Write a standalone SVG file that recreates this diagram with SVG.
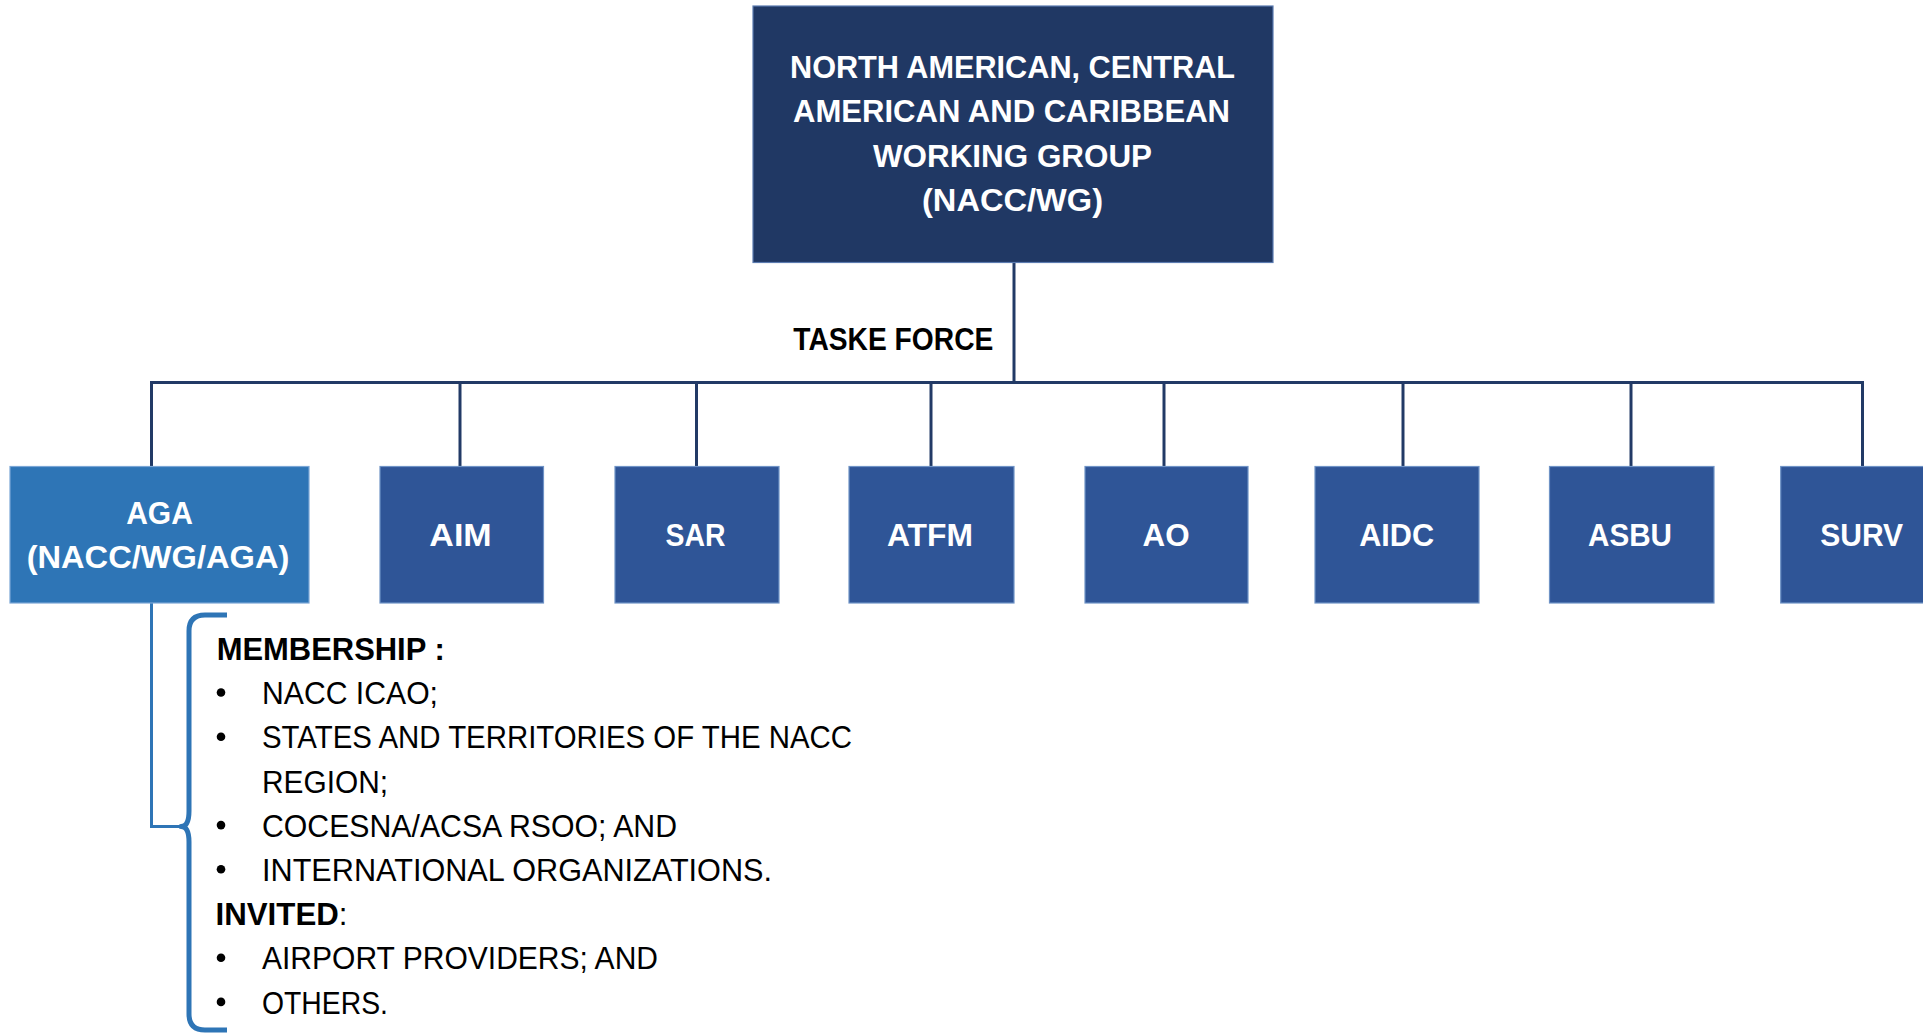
<svg xmlns="http://www.w3.org/2000/svg" width="1923" height="1034" viewBox="0 0 1923 1034">
<style>
.top{fill:#203864;stroke:#5b7bb0;stroke-width:1.2}
.box{fill:#2f5597;stroke:#6f93c6;stroke-width:1.2}
.aga{fill:#2e75b6;stroke:#7aa6d6;stroke-width:1.2}
.wt{font-family:"Liberation Sans",Arial,sans-serif;font-weight:bold;font-size:31px;fill:#ffffff;text-anchor:middle}
.lbl{font-family:"Liberation Sans",Arial,sans-serif;font-weight:bold;font-size:32px;fill:#000000}
.bt{font-family:"Liberation Sans",Arial,sans-serif;font-size:31px;fill:#000000}
.bb{font-family:"Liberation Sans",Arial,sans-serif;font-weight:bold;font-size:31px;fill:#000000}
.conn{fill:none;stroke:#223a66;stroke-width:3}
.brace{fill:none;stroke:#2e75b6;stroke-width:5;stroke-linejoin:round}
.link{fill:none;stroke:#2e75b6;stroke-width:3}
</style>
<rect width="1923" height="1034" fill="#ffffff"/>
<g id="connectors">
<path class="conn" d="M1014 262 V382.5"/>
<path class="conn" d="M151.5 466 V382.5 H1862.5 V466"/>
<path class="conn" d="M460 382.5 V466"/>
<path class="conn" d="M696.5 382.5 V466"/>
<path class="conn" d="M931 382.5 V466"/>
<path class="conn" d="M1164 382.5 V466"/>
<path class="conn" d="M1403 382.5 V466"/>
<path class="conn" d="M1631 382.5 V466"/>
<path class="link" d="M151.5 603 V826.5 H184"/>
</g>
<g id="nacc-wg">
<rect class="top" x="753" y="6" width="520" height="256.5"/>
<text class="wt" x="1012.5" y="78" textLength="445" lengthAdjust="spacingAndGlyphs">NORTH AMERICAN, CENTRAL</text>
<text class="wt" x="1011.5" y="122" textLength="437" lengthAdjust="spacingAndGlyphs">AMERICAN AND CARIBBEAN</text>
<text class="wt" x="1012.5" y="166.5" textLength="279" lengthAdjust="spacingAndGlyphs">WORKING GROUP</text>
<text class="wt" x="1012.5" y="210.5" textLength="181" lengthAdjust="spacingAndGlyphs">(NACC/WG)</text>
</g>
<g id="task-force-label">
<text class="lbl" x="793.3" y="350" textLength="200" lengthAdjust="spacingAndGlyphs">TASKE FORCE</text>
</g>
<g id="aga">
<rect class="aga" x="10" y="466.5" width="299" height="136.5"/>
<text class="wt" x="159.5" y="524" textLength="66.7" lengthAdjust="spacingAndGlyphs">AGA</text>
<text class="wt" x="158" y="568" textLength="262.7" lengthAdjust="spacingAndGlyphs">(NACC/WG/AGA)</text>
</g>
<g id="aim">
<rect class="box" x="380" y="466.5" width="163.5" height="136.5"/>
<text class="wt" x="460.5" y="546" textLength="62.3" lengthAdjust="spacingAndGlyphs">AIM</text>
</g>
<g id="sar">
<rect class="box" x="615" y="466.5" width="164" height="136.5"/>
<text class="wt" x="695.5" y="546" textLength="60" lengthAdjust="spacingAndGlyphs">SAR</text>
</g>
<g id="atfm">
<rect class="box" x="849" y="466.5" width="165" height="136.5"/>
<text class="wt" x="930" y="546" textLength="86" lengthAdjust="spacingAndGlyphs">ATFM</text>
</g>
<g id="ao">
<rect class="box" x="1085" y="466.5" width="163" height="136.5"/>
<text class="wt" x="1166" y="546" textLength="47" lengthAdjust="spacingAndGlyphs">AO</text>
</g>
<g id="aidc">
<rect class="box" x="1315" y="466.5" width="164" height="136.5"/>
<text class="wt" x="1396.7" y="546" textLength="75" lengthAdjust="spacingAndGlyphs">AIDC</text>
</g>
<g id="asbu">
<rect class="box" x="1549.5" y="466.5" width="164.5" height="136.5"/>
<text class="wt" x="1630" y="546" textLength="84" lengthAdjust="spacingAndGlyphs">ASBU</text>
</g>
<g id="surv">
<rect class="box" x="1780.7" y="466.5" width="164" height="136.5"/>
<text class="wt" x="1861.7" y="546" textLength="83" lengthAdjust="spacingAndGlyphs">SURV</text>
</g>
<g id="membership">
<path class="brace" d="M227 615 H205 Q189 615 189 631 V811 Q189 826.5 181 826.5 Q189 826.5 189 842 V1014 Q189 1030 205 1030 H227"/>
<text class="bb" x="216.7" y="660" textLength="228" lengthAdjust="spacingAndGlyphs">MEMBERSHIP :</text>
<g fill="#000000">
<circle cx="221" cy="692.5" r="4.3"/>
<circle cx="221" cy="736.7" r="4.3"/>
<circle cx="221" cy="825.1" r="4.3"/>
<circle cx="221" cy="869.3" r="4.3"/>
<circle cx="221" cy="957.7" r="4.3"/>
<circle cx="221" cy="1001.9" r="4.3"/>
</g>
<text class="bt" x="262" y="704.2" textLength="176" lengthAdjust="spacingAndGlyphs">NACC ICAO;</text>
<text class="bt" x="262" y="748.4" textLength="590" lengthAdjust="spacingAndGlyphs">STATES AND TERRITORIES OF THE NACC</text>
<text class="bt" x="262" y="792.6" textLength="126" lengthAdjust="spacingAndGlyphs">REGION;</text>
<text class="bt" x="262" y="836.8" textLength="415" lengthAdjust="spacingAndGlyphs">COCESNA/ACSA RSOO; AND</text>
<text class="bt" x="262" y="881" textLength="510" lengthAdjust="spacingAndGlyphs">INTERNATIONAL ORGANIZATIONS.</text>
<text class="bb" x="215.5" y="925.2" textLength="132" lengthAdjust="spacingAndGlyphs">INVITED<tspan font-weight="normal">:</tspan></text>
<text class="bt" x="262" y="969.4" textLength="396" lengthAdjust="spacingAndGlyphs">AIRPORT PROVIDERS; AND</text>
<text class="bt" x="262" y="1013.6" textLength="126" lengthAdjust="spacingAndGlyphs">OTHERS.</text>
</g>
</svg>
